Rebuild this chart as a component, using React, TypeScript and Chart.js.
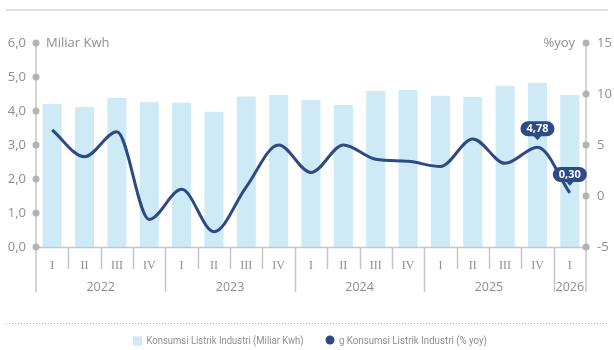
import { useEffect, useRef } from 'react';
import { Chart, registerables } from 'chart.js';

Chart.register(...registerables);

// Quarterly industrial electricity consumption and its year-on-year growth
const quarters = ['I', 'II', 'III', 'IV', 'I', 'II', 'III', 'IV', 'I', 'II', 'III', 'IV', 'I', 'II', 'III', 'IV', 'I'];
const years = ['2022', '2023', '2024', '2025', '2026'];
const yearSpans = [4, 4, 4, 4, 1];
const consumption = [4.21, 4.12, 4.38, 4.26, 4.24, 3.98, 4.43, 4.47, 4.32, 4.18, 4.59, 4.62, 4.45, 4.41, 4.74, 4.83, 4.47];
const growth = [6.47, 3.85, 6.3, -2.3, 0.65, -3.5, 0.9, 5.0, 2.3, 5.0, 3.6, 3.4, 2.88, 5.6, 3.2, 4.78, 0.3];
const labelledPoints = [15, 16];

const barLabel = 'Konsumsi Listrik Industri (Miliar Kwh)';
const lineLabel = 'g Konsumsi Listrik Industri (% yoy)';
const leftTitle = 'Miliar Kwh';
const rightTitle = '%yoy';

const BAR_COLOR = '#cdeaf6';
const LINE_COLOR = '#2e4a86';
const AXIS_COLOR = '#c6c6c6';
const DOT_COLOR = '#b3b3b3';
const TEXT_COLOR = '#8e8e8e';
const SANS = '"Open Sans", Roboto, sans-serif';
const LEGEND_FONT = '11px Roboto, sans-serif';

const fmt = (v: number, d: number) => v.toFixed(d).replace('.', ',');

// draw a legend label squeezed horizontally into a given width (condensed look)
function condensedText(ctx: CanvasRenderingContext2D, text: string, x: number, y: number, width: number) {
  const natural = ctx.measureText(text).width;
  const sx = Math.min(1, width / natural);
  ctx.save();
  ctx.translate(x, y);
  ctx.scale(sx, 1);
  ctx.fillText(text, 0, 0);
  ctx.restore();
}

const decorPlugin = {
  id: 'decor',
  afterDraw(chart: any) {
    const { ctx, chartArea, scales } = chart;
    const yl = scales.y;
    const yr = scales.y1;
    const axisBottom = 292;
    const catW = (chartArea.right - chartArea.left) / quarters.length;

    ctx.save();

    // top rule
    ctx.strokeStyle = '#d4d4d4';
    ctx.lineWidth = 1.5;
    ctx.beginPath();
    ctx.moveTo(6, 10);
    ctx.lineTo(608, 10);
    ctx.stroke();

    // dotted separator above the legend
    ctx.strokeStyle = '#6cc4e8';
    ctx.lineWidth = 1;
    ctx.setLineDash([1, 2]);
    ctx.beginPath();
    ctx.moveTo(6, 323.5);
    ctx.lineTo(608, 323.5);
    ctx.stroke();
    ctx.setLineDash([]);

    // vertical axis lines
    ctx.strokeStyle = AXIS_COLOR;
    ctx.lineWidth = 1.5;
    ctx.beginPath();
    ctx.moveTo(chartArea.left, yl.getPixelForValue(6));
    ctx.lineTo(chartArea.left, axisBottom);
    ctx.moveTo(chartArea.right, yr.getPixelForValue(15));
    ctx.lineTo(chartArea.right, axisBottom);
    ctx.stroke();

    // category separators: short between quarters, long between years
    const yearEdges = new Set<number>();
    let acc = 0;
    yearSpans.forEach((s) => {
      acc += s;
      yearEdges.add(acc);
    });
    ctx.beginPath();
    for (let i = 1; i < quarters.length; i++) {
      const px = Math.round(chartArea.left + i * catW) + 0.5;
      ctx.moveTo(px, chartArea.bottom);
      ctx.lineTo(px, yearEdges.has(i) ? axisBottom : 269);
    }
    ctx.moveTo(chartArea.left, chartArea.bottom + 0.5);
    ctx.lineTo(chartArea.right, chartArea.bottom + 0.5);
    ctx.stroke();

    // tick dots
    ctx.fillStyle = DOT_COLOR;
    yl.ticks.forEach((t: any) => {
      ctx.beginPath();
      ctx.arc(chartArea.left, yl.getPixelForValue(t.value), 3.5, 0, Math.PI * 2);
      ctx.fill();
    });
    yr.ticks.forEach((t: any) => {
      ctx.beginPath();
      ctx.arc(chartArea.right, yr.getPixelForValue(t.value), 3.5, 0, Math.PI * 2);
      ctx.fill();
    });

    // year labels
    ctx.fillStyle = TEXT_COLOR;
    ctx.font = `12.5px ${SANS}`;
    ctx.textAlign = 'center';
    ctx.textBaseline = 'middle';
    let start = 0;
    years.forEach((label, k) => {
      const span = yearSpans[k];
      const cx = chartArea.left + (start + span / 2) * catW;
      ctx.fillText(label, cx, 287);
      start += span;
    });

    // axis titles
    ctx.font = `13px ${SANS}`;
    ctx.textAlign = 'left';
    ctx.fillText(leftTitle, chartArea.left + 10, yl.getPixelForValue(6));
    ctx.textAlign = 'right';
    ctx.fillText(rightTitle, chartArea.right - 11, yr.getPixelForValue(15));

    // value call-outs on the growth line
    const meta = chart.getDatasetMeta(1);
    labelledPoints.forEach((i) => {
      const pt = meta.data[i];
      const text = fmt(growth[i], 2);
      ctx.font = `bold 11px ${SANS}`;
      const w = ctx.measureText(text).width + 12;
      const h = 15;
      const tip = pt.y - 7;
      const bottom = tip - 4;
      const top = bottom - h;
      const left = pt.x - w / 2;
      ctx.fillStyle = LINE_COLOR;
      ctx.beginPath();
      ctx.roundRect(left, top, w, h, 7.5);
      ctx.fill();
      ctx.beginPath();
      ctx.moveTo(pt.x - 4, bottom - 0.5);
      ctx.lineTo(pt.x + 4, bottom - 0.5);
      ctx.lineTo(pt.x, tip);
      ctx.closePath();
      ctx.fill();
      ctx.fillStyle = '#ffffff';
      ctx.textAlign = 'center';
      ctx.textBaseline = 'middle';
      ctx.fillText(text, pt.x, top + h / 2 + 0.5);
    });

    // legend
    const ly = 341;
    ctx.font = LEGEND_FONT;
    ctx.textAlign = 'left';
    ctx.textBaseline = 'middle';
    ctx.fillStyle = chart.data.datasets[0].backgroundColor;
    ctx.fillRect(133, ly - 4.5, 9, 9);
    ctx.fillStyle = TEXT_COLOR;
    condensedText(ctx, chart.data.datasets[0].label, 146.5, ly, 157);
    ctx.fillStyle = chart.data.datasets[1].borderColor;
    ctx.beginPath();
    ctx.arc(330, ly - 1, 4.5, 0, Math.PI * 2);
    ctx.fill();
    ctx.fillStyle = TEXT_COLOR;
    condensedText(ctx, chart.data.datasets[1].label, 339, ly, 148);

    ctx.restore();
  },
};

export default function App() {
  const canvasRef = useRef<HTMLCanvasElement | null>(null);

  useEffect(() => {
    document.body.style.margin = '0';
    const canvas = canvasRef.current;
    if (!canvas) return;

    const chart = new Chart(canvas, {
      data: {
        labels: quarters,
        datasets: [
          {
            type: 'bar',
            label: barLabel,
            data: consumption,
            backgroundColor: BAR_COLOR,
            yAxisID: 'y',
            barPercentage: 0.59,
            categoryPercentage: 1,
            order: 2,
          },
          {
            type: 'line',
            label: lineLabel,
            data: growth,
            borderColor: LINE_COLOR,
            backgroundColor: LINE_COLOR,
            borderWidth: 3,
            pointRadius: 0,
            cubicInterpolationMode: 'monotone',
            yAxisID: 'y1',
            order: 1,
          },
        ],
      },
      options: {
        responsive: false,
        animation: false,
        layout: { padding: { top: 43, bottom: 0, left: 0, right: 0 } },
        plugins: {
          legend: { display: false },
          tooltip: { enabled: false },
        },
        scales: {
          x: {
            offset: true,
            grid: { display: false, drawTicks: false },
            border: { display: false },
            ticks: {
              padding: 12,
              color: TEXT_COLOR,
              font: { family: '"Liberation Serif", "DejaVu Serif", serif', size: 12 },
              maxRotation: 0,
              autoSkip: false,
            },
            afterFit: (s: any) => {
              s.height = 103;
            },
          },
          y: {
            position: 'left',
            min: 0,
            max: 6,
            grid: { display: false, drawTicks: false },
            border: { display: false },
            ticks: {
              stepSize: 1,
              padding: 10,
              color: TEXT_COLOR,
              font: { family: SANS, size: 13 },
              callback: (v: any) => fmt(Number(v), 1),
            },
            afterFit: (s: any) => {
              s.width = 36;
            },
          },
          y1: {
            position: 'right',
            min: -5,
            max: 15,
            grid: { display: false, drawTicks: false },
            border: { display: false },
            ticks: {
              stepSize: 5,
              padding: 11,
              color: TEXT_COLOR,
              font: { family: SANS, size: 13 },
            },
            afterFit: (s: any) => {
              s.width = 28;
            },
          },
        },
      } as any,
      plugins: [decorPlugin],
    } as any);

    return () => chart.destroy();
  }, []);

  return <canvas ref={canvasRef} width={614} height={350} style={{ display: 'block' }} />;
}
